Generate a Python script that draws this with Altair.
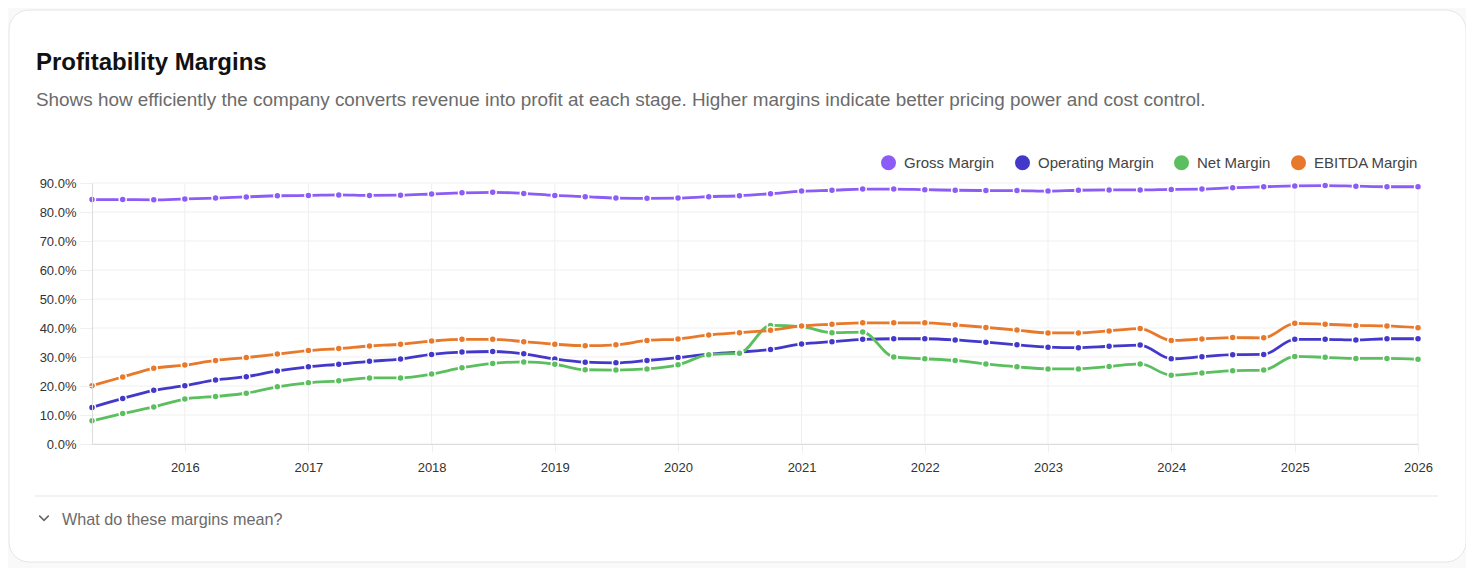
import altair as alt
import pandas as pd

# ---- data (quarterly, percent) ----
quarters = [
    "2015-04-01", "2015-07-01", "2015-10-01",
    "2016-01-01", "2016-04-01", "2016-07-01", "2016-10-01",
    "2017-01-01", "2017-04-01", "2017-07-01", "2017-10-01",
    "2018-01-01", "2018-04-01", "2018-07-01", "2018-10-01",
    "2019-01-01", "2019-04-01", "2019-07-01", "2019-10-01",
    "2020-01-01", "2020-04-01", "2020-07-01", "2020-10-01",
    "2021-01-01", "2021-04-01", "2021-07-01", "2021-10-01",
    "2022-01-01", "2022-04-01", "2022-07-01", "2022-10-01",
    "2023-01-01", "2023-04-01", "2023-07-01", "2023-10-01",
    "2024-01-01", "2024-04-01", "2024-07-01", "2024-10-01",
    "2025-01-01", "2025-04-01", "2025-07-01", "2025-10-01",
    "2026-01-01",
]

gross_margin = [
    84.3, 84.3, 84.2, 84.5, 84.8, 85.2, 85.6, 85.7, 85.9, 85.7, 85.8,
    86.2, 86.6, 86.8, 86.4, 85.7, 85.3, 84.8, 84.7, 84.8, 85.3, 85.6, 86.3, 87.2,
    87.5, 87.9, 87.9, 87.7, 87.5, 87.4, 87.4, 87.2, 87.5, 87.6, 87.6,
    87.8, 87.9, 88.4, 88.7, 89.0, 89.1, 88.9, 88.7, 88.7,
]
operating_margin = [
    12.6, 15.7, 18.5, 20.1, 22.1, 23.2, 25.2, 26.6, 27.5, 28.5, 29.3,
    30.9, 31.7, 31.9, 31.1, 29.3, 28.2, 28.0, 28.8, 29.8, 31.0, 31.7, 32.6, 34.5,
    35.3, 36.1, 36.3, 36.3, 35.9, 35.1, 34.2, 33.4, 33.2, 33.7, 34.1,
    29.4, 30.1, 30.8, 30.9, 36.1, 36.1, 35.9, 36.3, 36.3,
]
net_margin = [
    8.0, 10.5, 12.8, 15.5, 16.4, 17.5, 19.7, 21.1, 21.8, 22.8, 22.8,
    24.1, 26.3, 27.8, 28.3, 27.5, 25.6, 25.5, 25.9, 27.3, 30.8, 31.3, 40.9, 40.5,
    38.4, 38.6, 30.0, 29.4, 28.8, 27.6, 26.6, 25.9, 25.9, 26.7, 27.6,
    23.7, 24.5, 25.3, 25.5, 30.2, 29.9, 29.5, 29.5, 29.2,
]
ebitda_margin = [
    20.1, 23.1, 26.1, 27.2, 28.8, 29.8, 31.0, 32.2, 32.9, 33.8, 34.4,
    35.5, 36.1, 36.1, 35.3, 34.4, 33.9, 34.2, 35.7, 36.2, 37.6, 38.4, 39.2, 40.7,
    41.3, 41.8, 41.8, 41.8, 41.1, 40.2, 39.3, 38.3, 38.3, 39.0, 39.8,
    35.7, 36.2, 36.7, 36.6, 41.6, 41.3, 40.9, 40.7, 40.1,
]

series_names = ["Gross Margin", "Operating Margin", "Net Margin", "EBITDA Margin"]
series_colors = ["#8b5cf6", "#4338ca", "#5cbf5f", "#e8782a"]
series_values = [gross_margin, operating_margin, net_margin, ebitda_margin]

year_ticks = list(range(2016, 2027))
y_ticks = [0, 10, 20, 30, 40, 50, 60, 70, 80, 90]

title_text = "Profitability Margins"
subtitle_text = ("Shows how efficiently the company converts revenue into profit at each stage. "
                 "Higher margins indicate better pricing power and cost control.")
footer_text = "What do these margins mean?"

rows = []
for name, vals in zip(series_names, series_values):
    for q, v in zip(quarters, vals):
        rows.append({"date": q + "T00:00:00", "series": name, "value": v})
df = pd.DataFrame(rows)

grid_x_df = pd.DataFrame({"date": [f"{y}-01-01T00:00:00" for y in year_ticks]})
grid_y_df = pd.DataFrame({"value": y_ticks})

FONT = "Liberation Sans"
W, H = 1326, 261
GRID = "#efefef"

color_scale = alt.Scale(domain=series_names, range=series_colors)

x_enc = alt.X(
    "date:T",
    title=None,
    scale=alt.Scale(domain=[alt.DateTime(year=2015, month=4, date=1),
                            alt.DateTime(year=2026, month=1, date=1)], nice=False),
    axis=alt.Axis(
        values=[alt.DateTime(year=y, month=1, date=1) for y in year_ticks],
        format="%Y", labelAngle=0, labelFlush=False, labelOverlap=False,
        tickSize=8, labelPadding=9, grid=False, zindex=1,
    ),
)
y_enc = alt.Y(
    "value:Q",
    title=None,
    scale=alt.Scale(domain=[0, 90], nice=False),
    axis=alt.Axis(
        values=y_ticks, labelExpr="format(datum.value, '.1f') + '%'",
        tickSize=12, labelPadding=4, grid=False, zindex=1,
    ),
)

one = alt.Data(values=[{}])

card = alt.Chart(one).mark_rect(
    fill="white", stroke="#e6e6e6", strokeWidth=1, cornerRadius=20
).encode(
    x=alt.value(-83), x2=alt.value(1374), y=alt.value(-173), y2=alt.value(379)
)

grid_v = alt.Chart(grid_x_df).mark_rule(stroke=GRID, strokeWidth=1).encode(x=x_enc)
grid_h = alt.Chart(grid_y_df).mark_rule(stroke=GRID, strokeWidth=1).encode(y=y_enc)

lines = alt.Chart(df).mark_line(
    interpolate="monotone", strokeWidth=2.8
).encode(
    x=x_enc, y=y_enc,
    color=alt.Color("series:N", scale=color_scale, legend=None),
    detail="series:N",
)

points = alt.Chart(df).mark_circle(
    size=49, opacity=1, stroke="white", strokeWidth=1.5
).encode(
    x=x_enc, y=y_enc,
    color=alt.Color(
        "series:N", scale=color_scale, sort=series_names,
        legend=alt.Legend(
            title=None, orient="none", legendX=789, legendY=-28,
            direction="horizontal", symbolType="circle", symbolSize=225,
            symbolStrokeWidth=0, symbolOpacity=1,
            labelFontSize=15, labelFont=FONT, labelColor="#444444",
            labelOffset=8, columnPadding=20, padding=0, zindex=1,
        ),
    ),
)

title = alt.Chart(one).mark_text(
    text=title_text, align="left", baseline="alphabetic", font=FONT,
    fontSize=24, fontWeight="bold", color="#111111"
).encode(x=alt.value(-56), y=alt.value(-113))

subtitle = alt.Chart(one).mark_text(
    text=subtitle_text, align="left", baseline="alphabetic", font=FONT,
    fontSize=18.9, color="#6b6b6b"
).encode(x=alt.value(-56), y=alt.value(-77))

separator = alt.Chart(one).mark_rule(stroke="#e5e5e5", strokeWidth=1).encode(
    x=alt.value(-57), x2=alt.value(1346), y=alt.value(313)
)

chevron = alt.Chart(one).mark_point(
    shape="M-1,-0.5L0,0.5L1,-0.5", filled=False, size=90,
    stroke="#666666", strokeWidth=1.5, opacity=1
).encode(x=alt.value(-48), y=alt.value(335))

footer = alt.Chart(one).mark_text(
    text=footer_text, align="left", baseline="alphabetic", font=FONT,
    fontSize=16.2, color="#6b6b6b"
).encode(x=alt.value(-30), y=alt.value(341.5))

chart = alt.layer(
    card, grid_v, grid_h, lines, points, title, subtitle, separator, chevron, footer
).resolve_legend(
    color="independent"
).properties(
    width=W, height=H,
    autosize=alt.AutoSizeParams(type="none"),
    padding={"left": 84, "top": 175, "right": 48, "bottom": 124},
    background="#f9f9f9",
).configure_view(
    stroke=None
).configure_axis(
    labelFont=FONT, labelFontSize=13, labelColor="#333333",
    tickColor=GRID, domainColor="#dcdcdc",
)

chart.save("out.html", embed_options={"renderer": "svg", "actions": False})
